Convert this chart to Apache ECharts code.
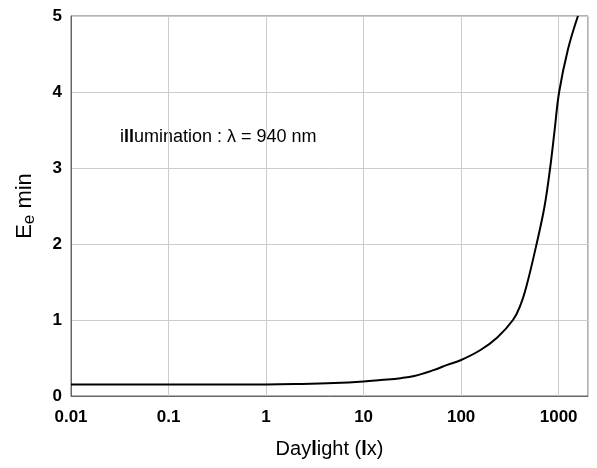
<!DOCTYPE html>
<html><head><meta charset="utf-8">
<script src="https://cdn.jsdelivr.net/npm/echarts@6/dist/echarts.min.js"></script>
<style>html,body{margin:0;padding:0;background:#fff}#c{width:597px;height:468px}</style>
</head><body><div id="c"></div>
<script>
const daylight = [0.01, 0.1, 1, 2, 5, 10, 15, 24, 33, 52, 72, 100, 158, 235, 340, 407, 469, 594, 718, 818, 910, 1012, 1245, 1578];
const eeMin    = [0.15, 0.15, 0.152, 0.157, 0.17, 0.19, 0.21, 0.235, 0.263, 0.34, 0.41, 0.474, 0.605, 0.77, 1.0, 1.2, 1.45, 2.0, 2.5, 3.0, 3.5, 4.0, 4.56, 5.0];
const yTicks = [0, 1, 2, 3, 4, 5];
const xTickValues = [0.01, 0.1, 1, 10, 100, 1000];
const xTickLabels = ['0.01', '0.1', '1', '10', '100', '1000'];

const chart = echarts.init(document.getElementById('c'), null, {renderer: 'canvas'});
const font = '"Liberation Sans", Arial, sans-serif';
function xLabel(v) {
  for (let i = 0; i < xTickValues.length; i++) {
    if (Math.abs(v - xTickValues[i]) / xTickValues[i] < 1e-6) return xTickLabels[i];
  }
  return '';
}
chart.setOption({
  animation: false,
  backgroundColor: '#fff',
  grid: {left: 71, top: 16, right: 9, bottom: 72, show: true, borderColor: '#666', borderWidth: 1, backgroundColor: 'transparent'},
  xAxis: {
    type: 'log', logBase: 10, min: 0.01, max: 2000,
    name: '{n|Day}{b|l}{n|ight (}{b|l}{n|x)}', nameLocation: 'middle', nameGap: 43,
    nameTextStyle: {rich: {n: {fontFamily: font, fontSize: 20, color: '#000'}, b: {fontFamily: font, fontSize: 20, color: '#000', fontWeight: 'bold'}}},
    axisLine: {lineStyle: {color: '#666', width: 1}},
    axisTick: {show: false},
    splitLine: {show: true, lineStyle: {color: '#ccc', width: 1}},
    axisLabel: {fontFamily: font, fontSize: 17, fontWeight: 'bold', color: '#000', margin: 13, showMaxLabel: false, formatter: xLabel}
  },
  yAxis: {
    type: 'value', min: yTicks[0], max: yTicks[yTicks.length - 1], interval: 1,
    name: '{n|E}{s|e}{n| min}', nameLocation: 'middle', nameGap: 35, nameRotate: 90,
    nameTextStyle: {rich: {n: {fontFamily: font, fontSize: 22, color: '#000'}, s: {fontFamily: font, fontSize: 17, color: '#000', padding: [0, 0, -9, 0]}}},
    axisLine: {show: true, lineStyle: {color: '#666', width: 1}},
    axisTick: {show: false},
    splitLine: {show: true, lineStyle: {color: '#ccc', width: 1}},
    axisLabel: {fontFamily: font, fontSize: 17, fontWeight: 'bold', color: '#000', margin: 9}
  },
  graphic: [{
    type: 'text', left: 120, top: 128,
    style: {text: 'i{b|ll}umination : λ = 940 nm', font: '18px ' + font, fill: '#000',
      rich: {b: {fontFamily: font, fontSize: 18, fontWeight: 'bold', fill: '#000'}}}
  }],
  series: [{
    type: 'line', data: daylight.map((x, i) => [x, eeMin[i]]),
    showSymbol: false, smooth: 0.4,
    lineStyle: {color: '#000', width: 2}
  }]
});
</script></body></html>
